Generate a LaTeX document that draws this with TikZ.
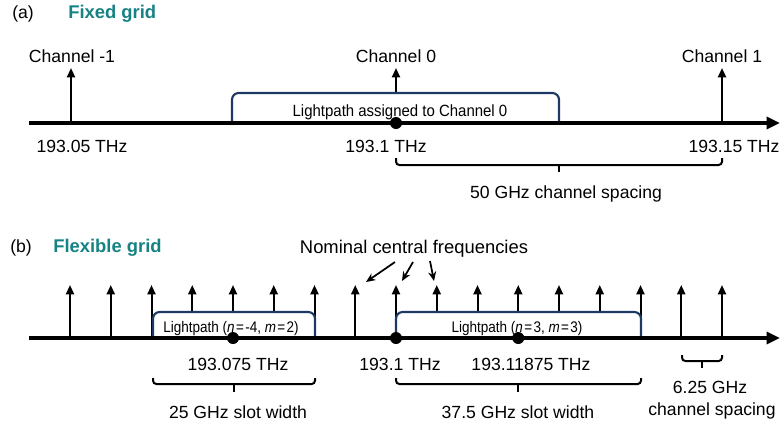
\documentclass[tikz,border=0pt]{standalone}
\usepackage{fontspec}
\setmainfont{Liberation Sans}
\newfontfamily\narrowA[FakeStretch=0.92]{Liberation Sans}
\newfontfamily\narrowB[FakeStretch=0.88]{Liberation Sans}
\usetikzlibrary{arrows.meta}
\definecolor{teal1}{RGB}{22,130,132}
\definecolor{navy1}{RGB}{28,58,100}
\begin{document}
\begin{tikzpicture}[x=0.75pt,y=-0.75pt,
 lbl/.style={anchor=base,inner sep=0pt,font=\fontsize{13.2}{15}\selectfont},
 ttl/.style={anchor=base west,inner sep=0pt,font=\fontsize{13.8}{16}\selectfont\bfseries,text=teal1},
 boxtxt/.style={anchor=base,inner sep=0pt,font=\narrowB\fontsize{11.5}{13}\selectfont},
 axisline/.style={line width=2.4pt,-{Triangle[length=10pt,width=9pt]}},
 varrow/.style={line width=1.5pt,-{Triangle[length=7pt,width=6pt]}},
 lpbox/.style={draw=navy1,line width=1.6pt,fill=white,rounded corners=5pt},
 bracket/.style={line width=1.5pt,rounded corners=2.5pt},
 dot/.style={circle,fill=black,inner sep=0pt,minimum size=9pt},
 pointer/.style={line width=1.3pt,-{Stealth[length=7pt,width=6pt]}}
]
\useasboundingbox (0,0) rectangle (781,426);

% ---------------- (a) fixed grid ----------------
\node[lbl,anchor=base west] (alab) at (12,18) {(a)};
\node[ttl] (atitle) at (68,18) {Fixed grid};

\coordinate (a0) at (29,123);
\coordinate (a1) at (780,123);
\coordinate (cm1b) at (71,123);  \coordinate (cm1t) at (71,68);
\coordinate (c0b) at (396,123);  \coordinate (c0t) at (396,68);
\coordinate (c1b) at (722,123);  \coordinate (c1t) at (722,68);

\draw[varrow] (cm1b) -- (cm1t);
\draw[varrow] (c1b) -- (c1t);
\draw[varrow] (c0b) -- (c0t);

\coordinate (abl) at (232,123); \coordinate (abtl) at (232,93);
\coordinate (abtr) at (559,93); \coordinate (abr) at (559,123);
\draw[lpbox] (abl) -- (abtl) -- (abtr) -- (abr);
\node[boxtxt,font=\narrowA\fontsize{12.2}{14}\selectfont] (atxt) at (400,116) {Lightpath assigned to Channel 0};

\draw[axisline] (a0) -- (a1);
\node[dot] (adot) at (c0b) {};

\node[lbl] (lcm1) at (72,62) {Channel -1};
\node[lbl] (lc0) at (396,62) {Channel 0};
\node[lbl] (lc1) at (722,62) {Channel 1};

\node[lbl] (f1) at (82,152) {193.05 THz};
\node[lbl] (f2) at (386,152) {193.1 THz};
\node[lbl] (f3) at (734,152) {193.15 THz};

\coordinate (abr1) at (396,158); \coordinate (abr2) at (396,165);
\coordinate (abr3) at (722,165); \coordinate (abr4) at (722,158);
\coordinate (abm1) at (559,165); \coordinate (abm2) at (559,172);
\draw[bracket] (abr1) -- (abr2) -- (abr3) -- (abr4);
\draw[bracket] (abm1) -- (abm2);
\node[lbl] (asp) at (566,198) {50 GHz channel spacing};

% ---------------- (b) flexible grid ----------------
\node[lbl,anchor=base west] (blab) at (10,252) {(b)};
\node[ttl] (btitle) at (53,252) {Flexible grid};
\node[lbl,font=\fontsize{13.8}{16}\selectfont] (nom) at (414,253) {Nominal central frequencies};

\coordinate (b0) at (29,338);
\coordinate (b1) at (780,338);
\foreach \k in {-8,...,8} {
  \coordinate (g\k b) at ({396+\k*40.75},338);
  \coordinate (g\k t) at ({396+\k*40.75},285);
  \draw[varrow] (g\k b) -- (g\k t);
}

\coordinate (p1s) at (395,262); \coordinate (p1e) at (366,282);
\coordinate (p2s) at (413,262); \coordinate (p2e) at (402,281);
\coordinate (p3s) at (430,261); \coordinate (p3e) at (434,281);
\draw[pointer] (p1s) -- (p1e);
\draw[pointer] (p2s) -- (p2e);
\draw[pointer] (p3s) -- (p3e);

\coordinate (lb1) at (153,338); \coordinate (lb2) at (153,312);
\coordinate (lb3) at (315,312); \coordinate (lb4) at (315,338);
\draw[lpbox] (lb1) -- (lb2) -- (lb3) -- (lb4);
\node[boxtxt] (ltxt) at (231,332) {Lightpath (\textit{n}\kern1pt=\kern1pt-4, \textit{m}\kern1pt=\kern1pt2)};

\coordinate (rb1) at (396,338); \coordinate (rb2) at (396,312);
\coordinate (rb3) at (641,312); \coordinate (rb4) at (641,338);
\draw[lpbox] (rb1) -- (rb2) -- (rb3) -- (rb4);
\node[boxtxt] (rtxt) at (517,332) {Lightpath (\textit{n}\kern1pt=\kern1pt3, \textit{m}\kern1pt=\kern1pt3)};

\draw[axisline] (b0) -- (b1);
\node[dot] (bd1) at (g-4b) {};
\node[dot] (bd2) at (g0b) {};
\node[dot] (bd3) at (g3b) {};

\node[lbl] (bf1) at (238,370) {193.075 THz};
\node[lbl] (bf2) at (400,370) {193.1 THz};
\node[lbl] (bf3) at (531,370) {193.11875 THz};

% brackets
\coordinate (lbr1) at (153,378); \coordinate (lbr2) at (153,384);
\coordinate (lbr3) at (315,384); \coordinate (lbr4) at (315,378);
\coordinate (lbm1) at (234,384); \coordinate (lbm2) at (234,392);
\draw[bracket] (lbr1) -- (lbr2) -- (lbr3) -- (lbr4);
\draw[bracket] (lbm1) -- (lbm2);
\node[lbl] (lsw) at (238,418) {25 GHz slot width};

\coordinate (rbr1) at (396,378); \coordinate (rbr2) at (396,384);
\coordinate (rbr3) at (641,384); \coordinate (rbr4) at (641,378);
\coordinate (rbm1) at (518,384); \coordinate (rbm2) at (518,392);
\draw[bracket] (rbr1) -- (rbr2) -- (rbr3) -- (rbr4);
\draw[bracket] (rbm1) -- (rbm2);
\node[lbl] (rsw) at (518,418) {37.5 GHz slot width};

\coordinate (sbr1) at (682,355); \coordinate (sbr2) at (682,361);
\coordinate (sbr3) at (722,361); \coordinate (sbr4) at (722,355);
\coordinate (sbm1) at (702,361); \coordinate (sbm2) at (702,368);
\draw[bracket] (sbr1) -- (sbr2) -- (sbr3) -- (sbr4);
\draw[bracket] (sbm1) -- (sbm2);
\node[lbl] (ssp1) at (710,393) {6.25 GHz};
\node[lbl] (ssp2) at (712,415) {channel spacing};
\end{tikzpicture}
\end{document}
